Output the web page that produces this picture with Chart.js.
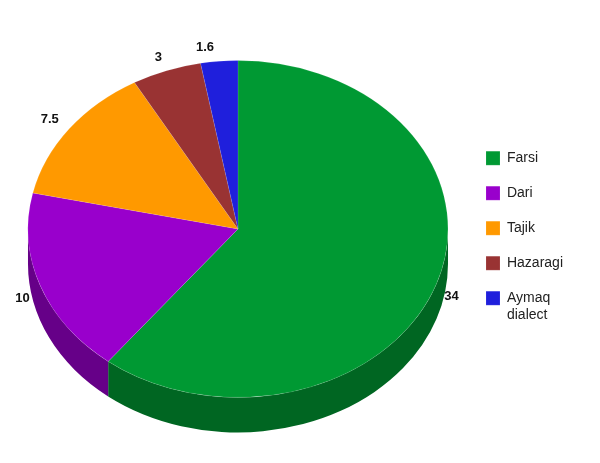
<!DOCTYPE html>
<html>
<head>
<meta charset="utf-8">
<style>
  html, body { margin: 0; padding: 0; background: #fff; }
  #wrap { width: 600px; height: 463px; }
</style>
<script src="https://cdn.jsdelivr.net/npm/chart.js@4"></script>
</head>
<body>
<div id="wrap"><canvas id="pie"></canvas></div>
<script>
const languages = ["Farsi", "Dari", "Tajik", "Hazaragi", ["Aymaq", "dialect"]];
const speakers = [34, 10, 7.5, 3, 1.6];
const topColors = ["#009933", "#9900cc", "#ff9900", "#993333", "#1f1fdc"];
const wallColors = ["#006622", "#660088", "#aa6600", "#662222", "#141493"];

// Chart.js has no 3d pie: squash the arcs and paint a wall under them
const tilt = 0.802;
const depth = 35;

const tiltedPie = {
  id: "tiltedPie",
  afterLayout(chart) {
    // legend sits a bit below the middle of the page
    chart.legend.top += 9;
    chart.legend.bottom += 9;
  },
  beforeDatasetsDraw(chart) {
    const ctx = chart.ctx;
    const arcs = chart.getDatasetMeta(0).data;
    const cx = arcs[0].x;
    const cy = arcs[0].y;
    const rx = arcs[0].outerRadius;
    const ry = rx * tilt;

    arcs.forEach((arc, i) => {
      const from = Math.max(arc.startAngle, 0);
      const to = Math.min(arc.endAngle, Math.PI);
      if (to <= from) return;
      ctx.beginPath();
      ctx.ellipse(cx, cy, rx, ry, 0, from, to);
      ctx.ellipse(cx, cy + depth, rx, ry, 0, to, from, true);
      ctx.closePath();
      ctx.fillStyle = wallColors[i];
      ctx.fill();
    });

    ctx.save();
    ctx.translate(cx, cy);
    ctx.scale(1, tilt);
    ctx.translate(-cx, -cy);
  },
  afterDatasetsDraw(chart) {
    const ctx = chart.ctx;
    ctx.restore();

    const arcs = chart.getDatasetMeta(0).data;
    ctx.save();
    ctx.font = "bold 13px 'Liberation Sans'";
    ctx.fillStyle = "#111";
    ctx.textAlign = "center";
    ctx.textBaseline = "middle";
    arcs.forEach((arc, i) => {
      const mid = (arc.startAngle + arc.endAngle) / 2;
      const sin = Math.sin(mid);
      const cos = Math.cos(mid);
      // small slices get pushed aside so the labels stay apart
      const nudge = i === arcs.length - 1 ? -12 : 0;
      const reach = sin > 0 ? (cos > 0 ? 226 : 229) : 234;
      const x = arc.x + reach * cos + nudge;
      const y = arc.y + (sin > 0 ? 183 * sin + 8 : 183 * sin + 1 - 3 * cos * cos);
      ctx.fillText(String(speakers[i]), x, y);
    });
    ctx.restore();
  },
};

new Chart(document.getElementById("pie").getContext("2d"), {
  type: "pie",
  data: {
    labels: languages,
    datasets: [
      {
        data: speakers,
        backgroundColor: topColors,
        borderColor: "rgba(255, 255, 255, 0.25)",
        borderWidth: 0.5,
        radius: 210,
      },
    ],
  },
  options: {
    responsive: true,
    maintainAspectRatio: false,
    animation: false,
    layout: {
      padding: { left: 11, right: 27, top: 19, bottom: 24 },
    },
    plugins: {
      tooltip: { enabled: false },
      legend: {
        position: "right",
        labels: {
          boxWidth: 14,
          boxHeight: 14,
          padding: 21,
          color: "#222",
          font: { family: "'Liberation Sans'", size: 14 },
        },
      },
    },
  },
  plugins: [tiltedPie],
});
</script>
</body>
</html>
